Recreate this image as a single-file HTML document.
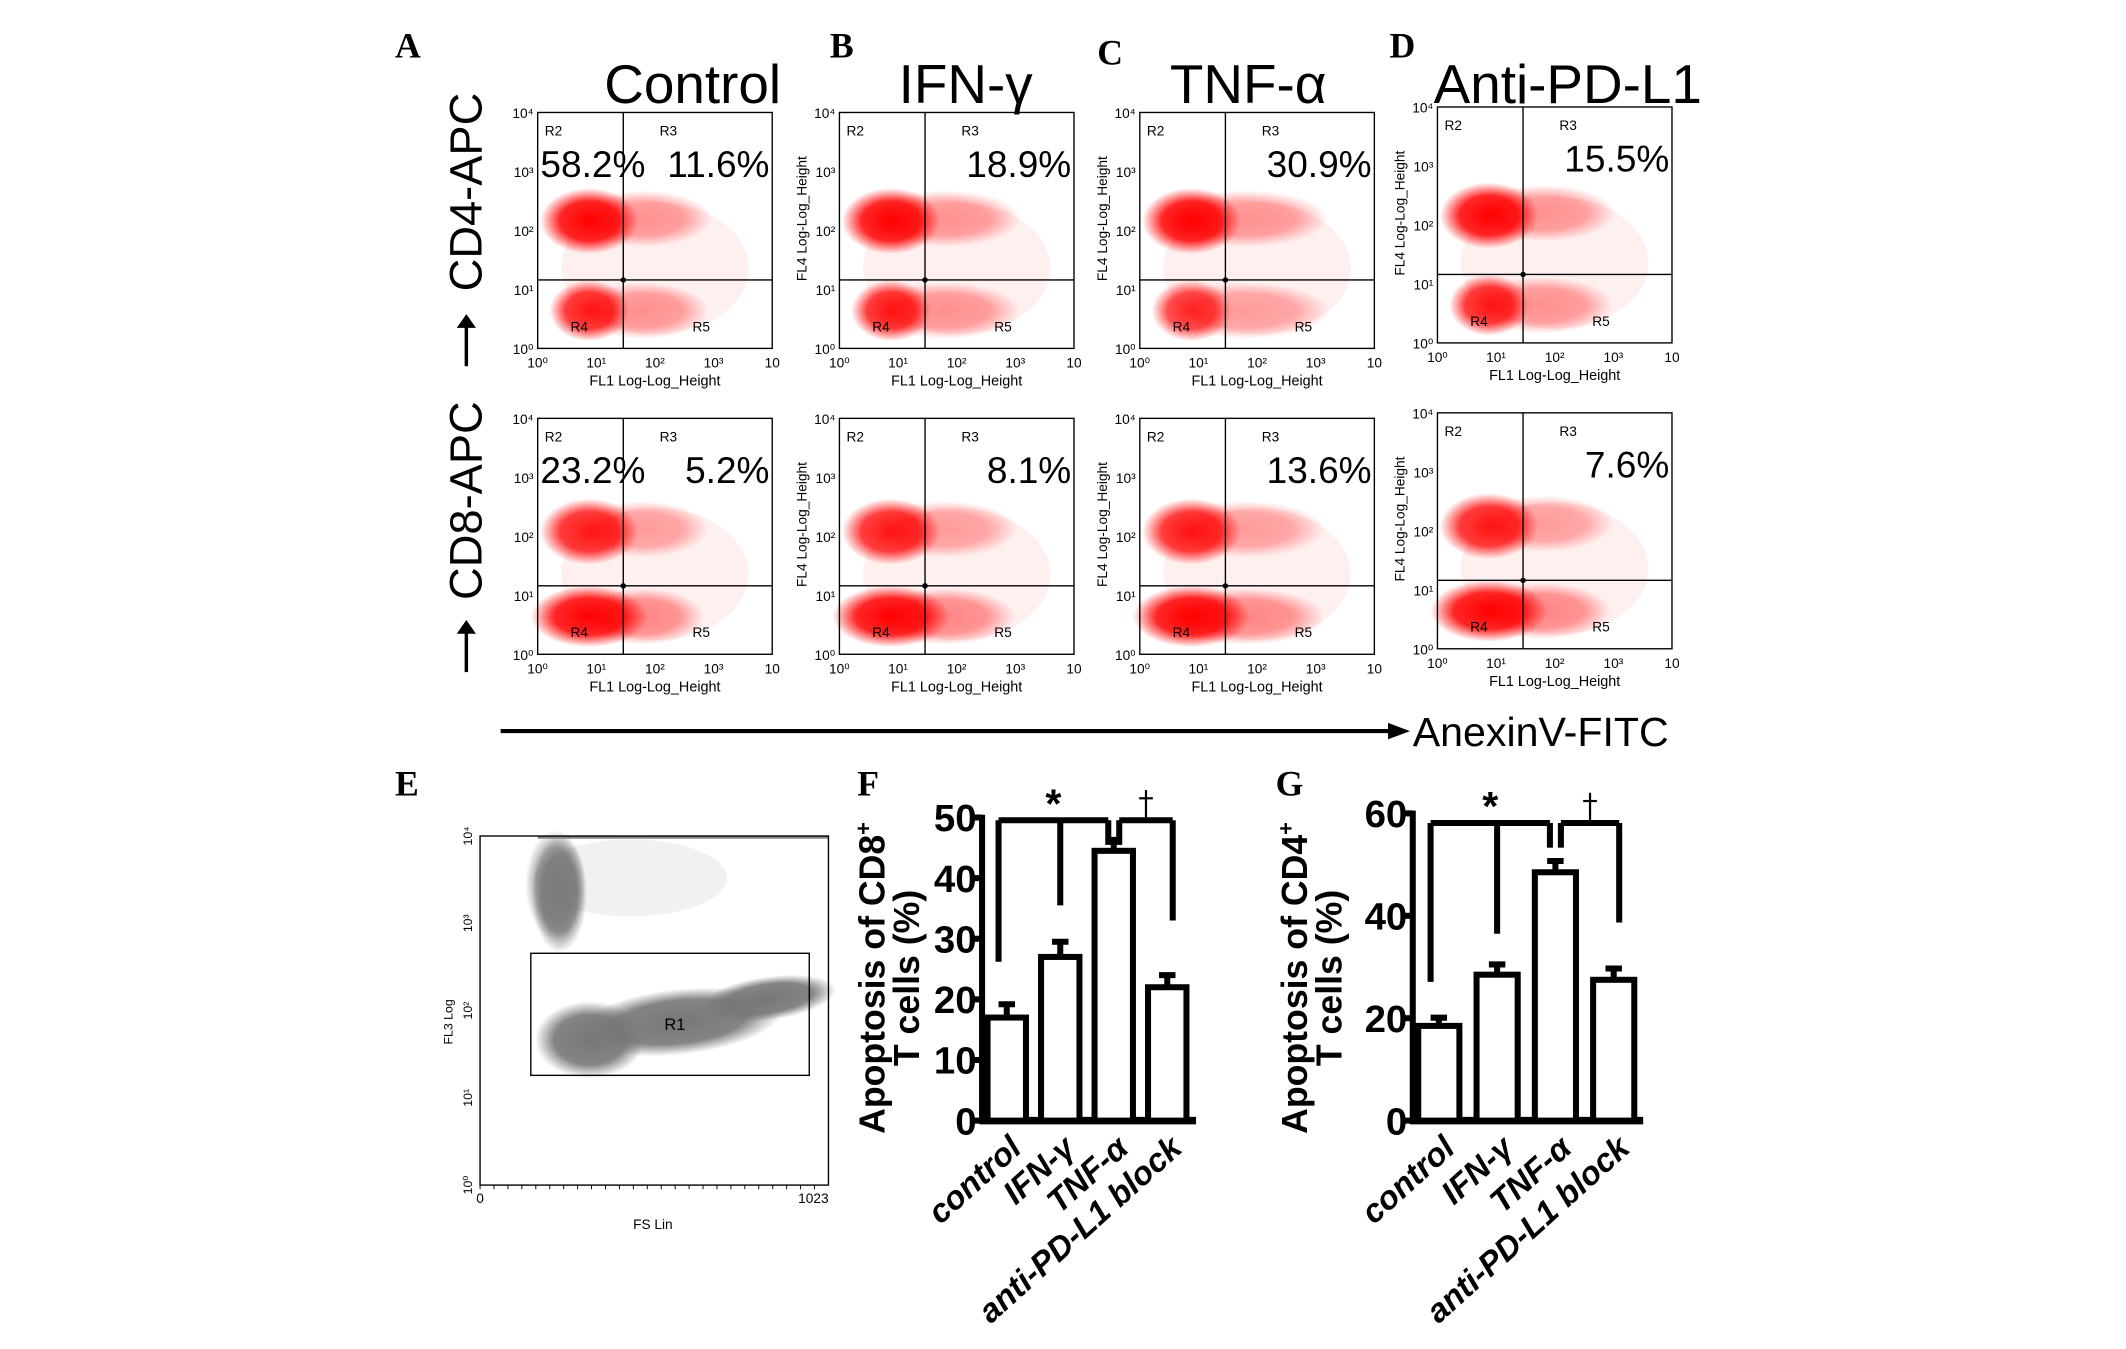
<!DOCTYPE html>
<html><head><meta charset="utf-8"><style>
html,body{margin:0;padding:0;background:#fff;}
svg{display:block;}
text{font-family:"Liberation Sans",sans-serif;}
text.serif{font-family:"Liberation Serif",serif;}
</style></head><body>
<svg id="fig" width="2126" height="1349" viewBox="0 0 1550 983.5" preserveAspectRatio="none" xmlns="http://www.w3.org/2000/svg">
<defs>
<radialGradient id="rg"><stop offset="0" stop-color="#f00" stop-opacity="1"/><stop offset="0.6" stop-color="#f00" stop-opacity="0.85"/><stop offset="1" stop-color="#f00" stop-opacity="0"/></radialGradient>
<radialGradient id="gg"><stop offset="0" stop-color="#777" stop-opacity="1"/><stop offset="0.65" stop-color="#777" stop-opacity="0.9"/><stop offset="1" stop-color="#777" stop-opacity="0"/></radialGradient>
</defs>
<g id="root"></g>
</svg>
<script>
// ---------- data ----------
const conditions = ["Control","IFN-γ","TNF-α","Anti-PD-L1"];
const cd4Pcts = [["58.2%","11.6%"],["","18.9%"],["","30.9%"],["","15.5%"]];
const cd8Pcts = [["23.2%","5.2%"],["","8.1%"],["","13.6%"],["","7.6%"]];
const barCategories = ["control","IFN-γ","TNF-α","anti-PD-L1 block"];
const cd8Values = [17, 27, 44.5, 22];
const cd8Errors = [2.2, 2.5, 1.8, 2.0];
const cd4Values = [18.5, 28.5, 48.5, 27.5];
const cd4Errors = [1.6, 2.0, 2.2, 2.2];
const cd8Ticks = [0,10,20,30,40,50];
const cd4Ticks = [0,20,40,60];
const decadeTicks = ["10⁰","10¹","10²","10³","10⁴"];
// cloud intensity per panel (row1 CD4, row2 CD8): [upperDensity, lowerDensity, rightSpread]
const cd4Clouds = [[1,0.9,0.5],[1,0.9,0.7],[1,0.8,0.9],[1,0.9,0.6]];
const cd8Clouds = [[0.9,1,0.4],[0.9,1,0.6],[0.9,1,0.8],[0.9,1,0.55]];

const NS="http://www.w3.org/2000/svg";
const root=document.getElementById('root');
function el(tag,attrs,parent,txt){const e=document.createElementNS(NS,tag);for(const k in attrs)e.setAttribute(k,attrs[k]);if(txt!==undefined)e.textContent=txt;(parent||root).appendChild(e);return e;}

// panel letters
const letters=[["A",288,42],["B",605,42],["C",800,47],["D",1013,42],["E",288,580],["F",625,580],["G",930,580]];
letters.forEach(l=>{const t=el('text',{x:l[1],y:l[2],'class':'serif','font-weight':'bold','font-size':26},root,l[0]);

});

// titles
const titleX=[505,704,910,1143];
conditions.forEach((c,i)=>{const t=el('text',{x:titleX[i],y:75,'font-size':40,'text-anchor':'middle'},root,c);

});

// flow plots
const colLeft=[392,612,831,1048];
const rowTop=[82,305];
function flowPlot(ci,ri){
  const w=171,h=172;
  const x0=colLeft[ci],y0=rowTop[ri]+(ci===3?-4:0);
  const g=el('g',{});
  
  
  const cl=(ri===0?cd4Clouds:cd8Clouds)[ci];
  const X=f=>x0+f*w, Y=f=>y0+f*h;
  el('ellipse',{cx:X(0.5),cy:Y(0.66),rx:w*0.4,ry:h*0.28,fill:'#f00',opacity:0.06},g);
  el('ellipse',{cx:X(0.45),cy:Y(ri?0.47:0.45),rx:w*(0.22+0.15*cl[2]),ry:h*0.12,fill:'url(#rg)',opacity:0.4*cl[0]},g);
  el('ellipse',{cx:X(0.22),cy:Y(ri?0.48:0.46),rx:w*0.21,ry:h*0.14,fill:'url(#rg)',opacity:cl[0]},g);
  el('ellipse',{cx:X(0.45),cy:Y(0.84),rx:w*(0.18+0.2*cl[2]),ry:h*0.12,fill:'url(#rg)',opacity:0.45*cl[1]},g);
  el('ellipse',{cx:X(0.22),cy:Y(0.84),rx:w*(0.17+0.08*ri),ry:h*0.13,fill:'url(#rg)',opacity:cl[1]},g);
  el('rect',{x:x0,y:y0,width:w,height:h,fill:'none',stroke:'#000','stroke-width':1},g);
  const gx=X(0.365),gy=Y(0.71);
  el('line',{x1:x0,x2:x0+w,y1:gy,y2:gy,stroke:'#000','stroke-width':1},g);
  el('line',{x1:gx,x2:gx,y1:y0,y2:y0+h,stroke:'#000','stroke-width':1},g);
  el('circle',{cx:gx,cy:gy,r:2,fill:'#000'},g);
  [['R2',0.03,0.08],['R3',0.52,0.08],['R4',0.14,0.91],['R5',0.66,0.91]].forEach(r=>el('text',{x:X(r[1]),y:Y(r[2])+3,'font-size':10},g,r[0]));
  decadeTicks.forEach((t,k)=>{
    const yy=y0+h-k*h/4;
    el('text',{x:x0-3,y:yy+4,'font-size':10,'text-anchor':'end'},g,t);
    const xx=x0+k*w/4;
    el('text',{x:xx,y:y0+h+14,'font-size':10,'text-anchor':'middle'},g,k===4?'10':t);
  });
  el('text',{x:x0+w/2,y:y0+h+27,'font-size':10.5,'text-anchor':'middle'},g,'FL1 Log-Log_Height');
  if(ci>0){el('text',{x:0,y:0,'font-size':10,'text-anchor':'middle',transform:`translate(${x0-24},${y0+h*0.45}) rotate(-90)`},g,'FL4 Log-Log_Height');}
  const p=(ri===0?cd4Pcts:cd8Pcts)[ci];
  const by=y0+47;
  if(p[0]){const t=el('text',{x:x0+2,y:by,'font-size':27},g,p[0]);}
  const t2=el('text',{x:x0+w-2,y:by,'font-size':27,'text-anchor':'end'},g,p[1]);
  
  
}
for(let r=0;r<2;r++)for(let c=0;c<4;c++)flowPlot(c,r);

[["CD4-APC",140,245],["CD8-APC",365,468]].forEach((a,i)=>{
  const t=el('text',{x:0,y:0,'font-size':33,'text-anchor':'middle',transform:`translate(351,${a[1]}) rotate(-90)`},root,a[0]);
  
  
  el('line',{x1:340,x2:340,y1:a[2]+22,y2:a[2]-10,stroke:'#000','stroke-width':2.5});
  el('path',{d:`M333,${a[2]-6} L340,${a[2]-16} L347,${a[2]-6} Z`,fill:'#000'});
});
el('line',{x1:365,x2:1020,y1:533,y2:533,stroke:'#000','stroke-width':3});
el('path',{d:'M1012,527 L1028,533 L1012,539 Z',fill:'#000'});
const ax=el('text',{x:1030,y:544,'font-size':30},root,'AnexinV-FITC');



// panel E
(function(){
  const g=el('g',{});
  
  
  const L=350,R=604,T=609.5,B=864;
  el('rect',{x:388,y:T,width:40,height:85,fill:'url(#gg)',opacity:0.9},g);
  el('ellipse',{cx:405,cy:645,rx:22,ry:40,fill:'url(#gg)',opacity:0.7},g);
  el('ellipse',{cx:460,cy:640,rx:70,ry:28,fill:'#777',opacity:0.1},g);
  el('line',{x1:392,x2:604,y1:T+1,y2:T+1,stroke:'#888','stroke-width':2},g);
  el('ellipse',{cx:430,cy:758,rx:40,ry:28,fill:'url(#gg)'},g);
  el('ellipse',{cx:495,cy:745,rx:75,ry:24,fill:'url(#gg)',transform:'rotate(-6 495 745)'},g);
  el('ellipse',{cx:560,cy:728,rx:50,ry:16,fill:'url(#gg)',transform:'rotate(-8 560 728)'},g);
  el('rect',{x:L,y:T,width:R-L,height:B-T,fill:'none',stroke:'#000','stroke-width':1},g);
  el('rect',{x:387,y:695,width:203,height:89,fill:'none',stroke:'#000','stroke-width':1},g);
  el('text',{x:492,y:751,'font-size':12,'text-anchor':'middle'},g,'R1');
  decadeTicks.forEach((t,k)=>{const yy=B-k*(B-T)/4;
    el('text',{x:0,y:0,'font-size':9,'text-anchor':'middle',transform:`translate(${L-6},${yy}) rotate(-90)`},g,t);});
  el('text',{x:0,y:0,'font-size':9,'text-anchor':'middle',transform:`translate(330,745) rotate(-90)`},g,'FL3 Log');
  el('text',{x:L,y:877,'font-size':10,'text-anchor':'middle'},g,'0');
  el('text',{x:593,y:877,'font-size':10,'text-anchor':'middle'},g,'1023');
  el('text',{x:476,y:896,'font-size':10,'text-anchor':'middle'},g,'FS Lin');
  for(let i=0;i<25;i++){el('line',{x1:L+i*(R-L)/25,x2:L+i*(R-L)/25,y1:B,y2:B+3,stroke:'#000','stroke-width':0.7},g);}
})();

function barChart(cfg){
  const g=el('g',{});
  
  
  const y=v=>cfg.y0-(v/cfg.max)*(cfg.y0-cfg.yTop);
  const sw=4.4;
  el('line',{x1:cfg.ax,x2:cfg.ax,y1:cfg.yTop-2,y2:cfg.y0,stroke:'#000','stroke-width':sw},g);
  el('line',{x1:cfg.ax-2,x2:cfg.xEnd,y1:cfg.y0,y2:cfg.y0,stroke:'#000','stroke-width':sw+1},g);
  cfg.ticks.forEach(t=>{
    el('line',{x1:cfg.ax-6,x2:cfg.ax,y1:y(t),y2:y(t),stroke:'#000','stroke-width':sw},g);
    el('text',{x:cfg.ax-4,y:y(t)+10,'font-size':28,'font-weight':'bold','text-anchor':'end'},g,String(t));
  });
  cfg.values.forEach((v,i)=>{
    const xl=cfg.x0+i*cfg.step, cx=xl+cfg.bw/2;
    const b=el('rect',{x:xl,y:y(v),width:cfg.bw,height:cfg.y0-y(v),fill:'#fff',stroke:'#000','stroke-width':sw},g);
    
    
    const e=cfg.errors[i];
    el('line',{x1:cx,x2:cx,y1:y(v),y2:y(v+e),stroke:'#000','stroke-width':sw},g);
    el('line',{x1:cx-6,x2:cx+6,y1:y(v+e),y2:y(v+e),stroke:'#000','stroke-width':sw},g);
    const lx=xl+cfg.bw-2, ly=cfg.y0+22;
    const t=el('text',{x:0,y:0,'font-size':24,'font-weight':'bold','font-style':'italic','text-anchor':'end',transform:`translate(${lx},${ly}) rotate(-42)`},g,barCategories[i]);
    
    
  });
  const cxs=cfg.values.map((v,i)=>cfg.x0+i*cfg.step+cfg.bw/2);
  const by=cfg.brY;
  const l0=cxs[0]-6, l2=cxs[2]-4, r0=cxs[2]+4, r1=cxs[3]+4;
  const legs=[[l0,y(cfg.values[0]+cfg.errors[0]+7)],[cxs[1],y(cfg.values[1]+cfg.errors[1]+6)],[l2,by+18]];
  el('line',{x1:l0,x2:l2,y1:by,y2:by,stroke:'#000','stroke-width':sw},g);
  legs.forEach(L=>el('line',{x1:L[0],x2:L[0],y1:by,y2:L[1],stroke:'#000','stroke-width':sw},g));
  el('line',{x1:r0,x2:r1,y1:by,y2:by,stroke:'#000','stroke-width':sw},g);
  el('line',{x1:r0,x2:r0,y1:by,y2:by+18,stroke:'#000','stroke-width':sw},g);
  el('line',{x1:r1,x2:r1,y1:by,y2:y(cfg.values[3]+cfg.errors[3]+9),stroke:'#000','stroke-width':sw},g);
  el('text',{x:(l0+l2)/2,y:by-2,'font-size':30,'font-weight':'bold','text-anchor':'middle'},g,'*');
  el('line',{x1:(r0+r1)/2,x2:(r0+r1)/2,y1:by-2,y2:by-22,stroke:'#000','stroke-width':1.6},g);
  el('line',{x1:(r0+r1)/2-5,x2:(r0+r1)/2+5,y1:by-16,y2:by-16,stroke:'#000','stroke-width':1.6},g);
  const t=el('text',{x:0,y:0,'font-size':26,'font-weight':'bold','text-anchor':'middle',transform:`translate(${cfg.titleX},${cfg.titleY}) rotate(-90)`},g);
  el('tspan',{},t,'Apoptosis of '+cfg.cell);
  el('tspan',{dy:-10,'font-size':16},t,'+');
  el('text',{x:0,y:0,'font-size':26,'font-weight':'bold','text-anchor':'middle',transform:`translate(${cfg.titleX+25},${cfg.titleY}) rotate(-90)`},g,'T cells (%)');
  
  
}
barChart({name:'cd8-apoptosis-chart',values:cd8Values,errors:cd8Errors,ticks:cd8Ticks,max:50,ax:716,y0:817,yTop:596,x0:720,bw:28,step:39,xEnd:872,brY:598,titleX:645,titleY:713,cell:'CD8'});
barChart({name:'cd4-apoptosis-chart',values:cd4Values,errors:cd4Errors,ticks:cd4Ticks,max:60,ax:1030,y0:817,yTop:593,x0:1034,bw:30,step:42.5,xEnd:1198,brY:600,titleX:953,titleY:713,cell:'CD4'});
</script>
</body></html>
